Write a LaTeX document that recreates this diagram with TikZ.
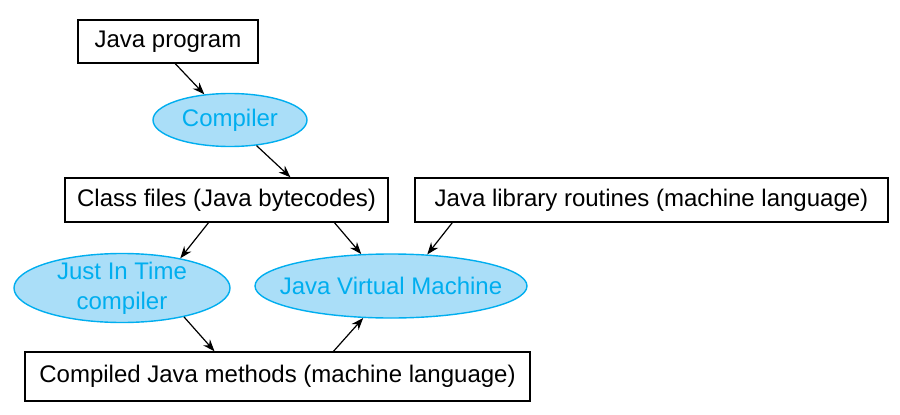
\documentclass[tikz,border=0pt]{standalone}
\usepackage{fontspec}
\setmainfont{Liberation Sans}
\usetikzlibrary{calc,shapes.geometric,arrows.meta}
\definecolor{elfill}{RGB}{170,222,248}
\definecolor{eldraw}{RGB}{0,174,239}
\tikzset{
  txt/.style={font=\fontsize{24}{30}\selectfont},
  box/.style={txt,draw=black,line width=1.4pt,fill=white,inner sep=0pt},
  oval/.style={ellipse,draw=eldraw,line width=1.4pt,fill=elfill,inner sep=0pt},
  ovaltext/.style={txt,text=eldraw,align=center,inner sep=0pt},
  arr/.style={line width=1.2pt,-{Stealth[length=12pt,width=9pt]}}
}
\begin{document}
\begin{tikzpicture}[x=1pt,y=-1pt]
\useasboundingbox (0,0) rectangle (900,415);
\node[box,minimum width=180pt,minimum height=43pt] (jp) at (168,41.5) {Java program};
\node[oval,minimum width=154pt,minimum height=53pt] (comp) at (230,120) {};
\node[ovaltext] (compt) at (comp.center) {Compiler};
\node[box,minimum width=323pt,minimum height=44pt] (cf) at (226.5,200) {Class files (Java bytecodes)};
\node[box,minimum width=473pt,minimum height=44pt] (lib) at (651.5,200) {Java library routines (machine language)};
\node[oval,minimum width=216pt,minimum height=69pt] (jit) at (122,288) {};
\node[ovaltext] (jitt) at (jit.center) {Just In Time\\compiler};
\node[oval,minimum width=272pt,minimum height=64pt] (jvm) at (391,286) {};
\node[ovaltext] (jvmt) at (jvm.center) {Java Virtual Machine};
\node[box,minimum width=505pt,minimum height=49pt] (cm) at (277.5,376.5) {Compiled Java methods (machine language)};
\draw[arr] ($(jp.south west)+(98,0)$) -- (comp.135);
\draw[arr] (comp.-44) -- ($(cf.north)+(64,0)$);
\draw[arr] ($(cf.south)+(-18,0)$) -- (jit.27);
\draw[arr] ($(cf.south)+(108,0)$) -- (jvm.133);
\draw[arr] ($(lib.south west)+(38,0)$) -- (jvm.41);
\draw[arr] (jit.-25) -- ($(cm.north)+(-63,0)$);
\draw[arr] ($(cm.north)+(56,0)$) -- (jvm.229);
\end{tikzpicture}
\end{document}
